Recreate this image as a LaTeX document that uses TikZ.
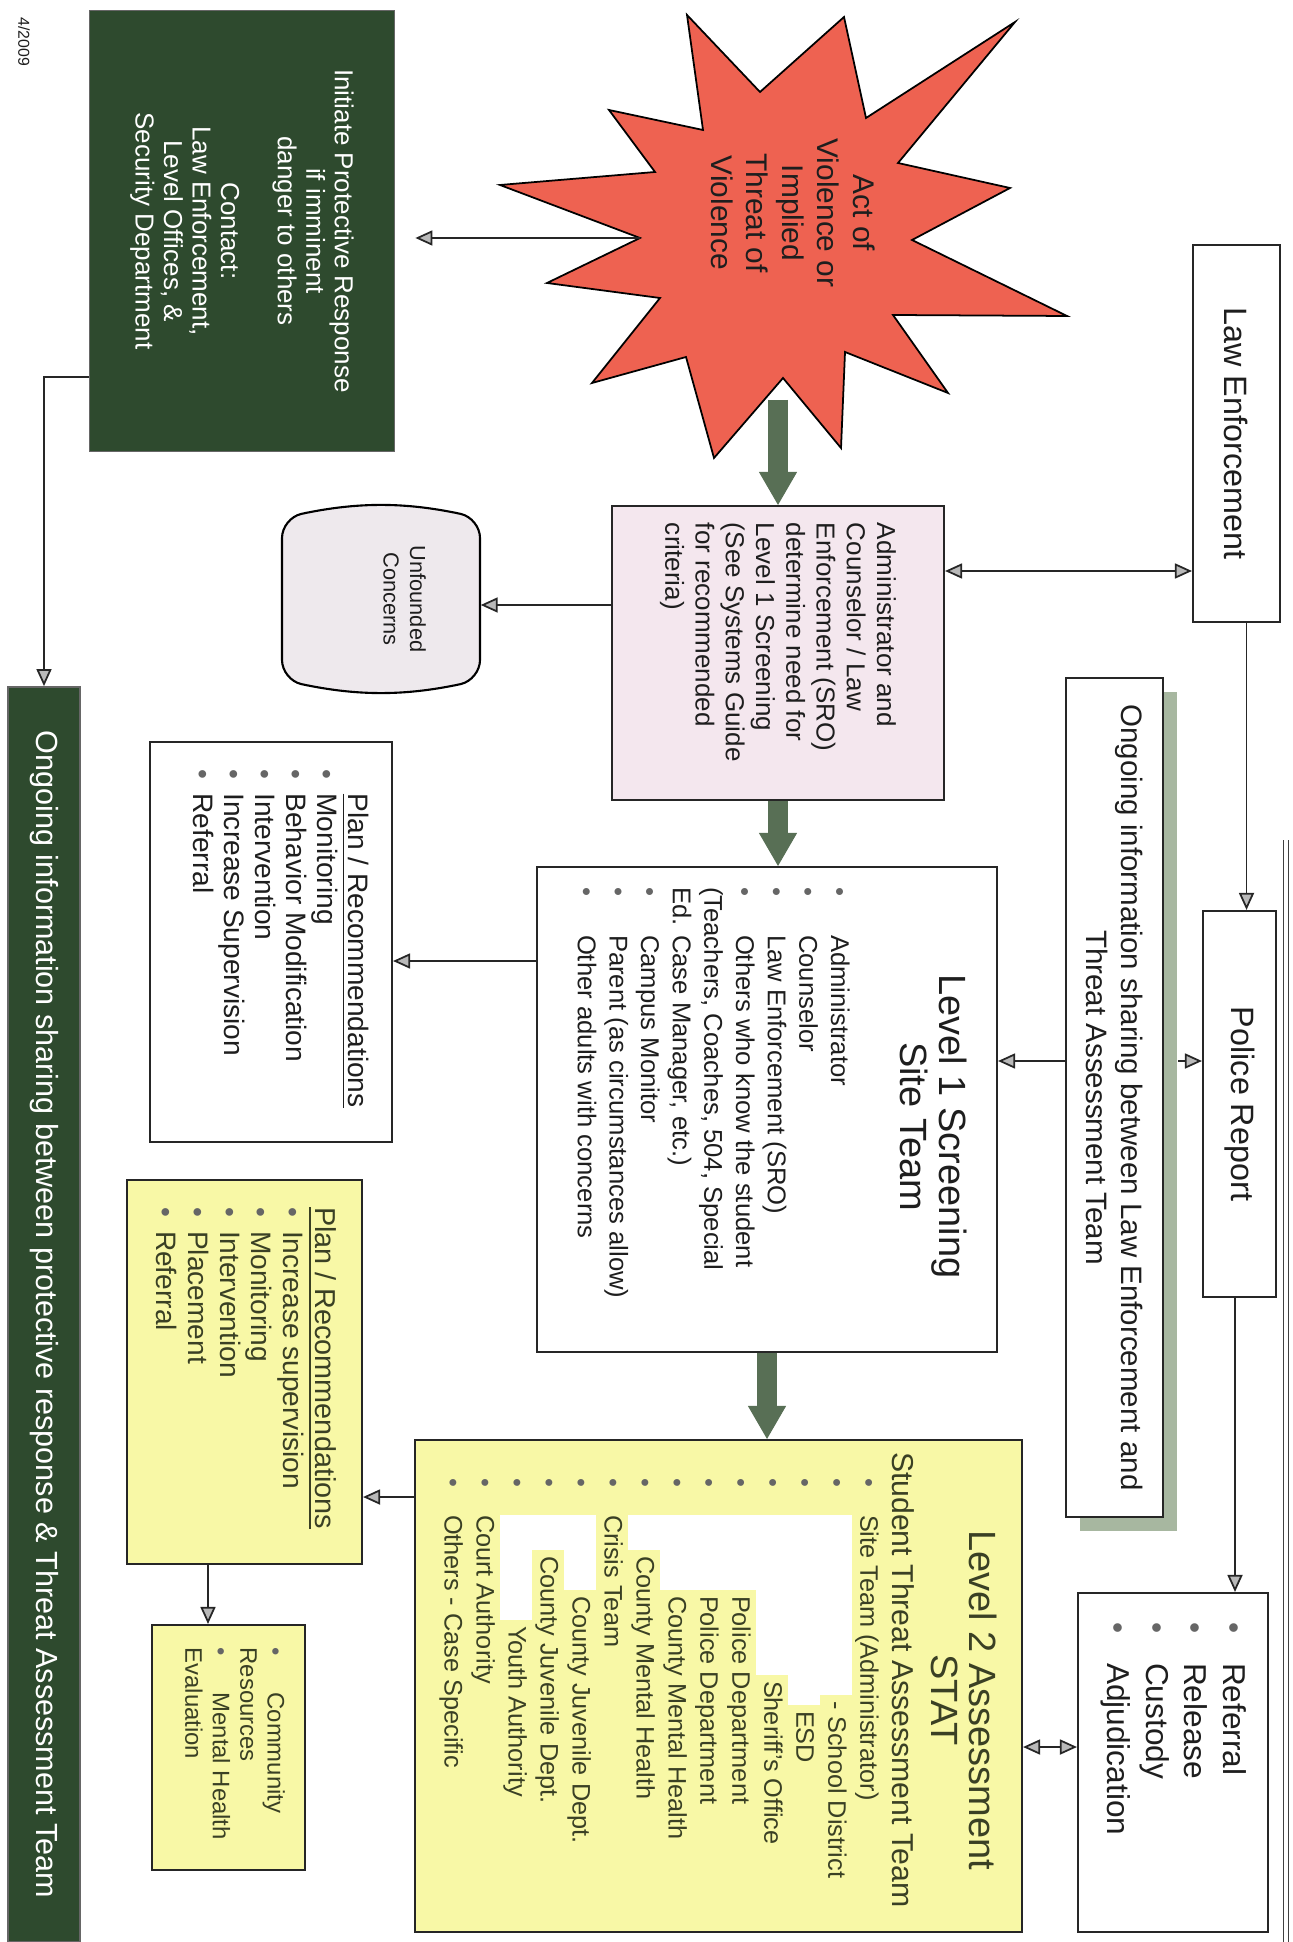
\documentclass[tikz,border=0pt]{standalone}
\usepackage{fontspec}
\setmainfont{Liberation Sans}
\usepackage{graphicx}
\usetikzlibrary{arrows.meta,positioning,shadows}

\definecolor{protectgreen}{HTML}{2E4A2E}
\definecolor{blastred}{HTML}{EE6251}
\definecolor{adminpink}{HTML}{F4E7EE}
\definecolor{unfgrey}{HTML}{EEE9ED}
\definecolor{stateyellow}{HTML}{F8F8A6}
\definecolor{yellowtext}{HTML}{3A4024}
\definecolor{fatgreen}{HTML}{586F55}
\definecolor{shadegreen}{HTML}{A7B7A0}
\definecolor{inktext}{HTML}{1E1E1E}

\newcommand{\rbox}[4][t]{\rotatebox{-90}{\parbox[c][#3][#1]{#2}{#4}}}
\newcommand{\bdot}{\textcolor{gray!80!black}{\textbullet}}
\newcommand{\itmat}[3]{\par\noindent\hangindent=#2\hangafter=1\makebox[#2][l]{\hspace{#1}\bdot}#3}
\newcommand{\itm}[2][2.4mm]{\itmat{0pt}{#1}{#2}}
\newcommand{\redact}[1]{\textcolor{white}{\rule[-2.5pt]{#1}{9.1pt}}\hspace{0.6mm}}

\begin{document}
\begin{tikzpicture}[x=0.1mm,y=-0.1mm,
    box/.style={draw=black!85,line width=0.6pt,fill=white,inner sep=0pt,text=inktext},
    pinkbox/.style={box,fill=adminpink},
    yellowbox/.style={box,fill=stateyellow,text=yellowtext},
    darkbox/.style={draw=black!60,line width=0.5pt,fill=protectgreen,inner sep=0pt,text=white},
    link/.style={draw=black!85,line width=0.5pt,-{Triangle[length=1.7mm,width=1.5mm,fill=gray!55]}},
    twoway/.style={link,{Triangle[length=1.7mm,width=1.5mm,fill=gray!55]}-{Triangle[length=1.7mm,width=1.5mm,fill=gray!55]}},
    fatlink/.style={draw=fatgreen,line width=2mm,-{Triangle[length=3.3mm,width=3.8mm,line width=0.3pt]}},
  ]
\useasboundingbox (0,0) rectangle (1293,1942);

\node[inner sep=0pt,rotate=-90,text=inktext,font=\fontsize{4.5}{5}\selectfont] (stamp) at (24,42) {4/2009};

\node[darkbox,minimum width=30.5mm,minimum height=44.1mm] (protect) at (242,231)
  {\rbox[c]{41mm}{27mm}{\centering\fontsize{7.4}{8.1}\selectfont
   Initiate Protective Response\\ if imminent\\ danger to others\\[8.1pt]
   Contact:\\ Law Enforcement,\\ Level Offices, \&\\ Security Department}};

\draw[line width=0.5pt,fill=blastred,line join=miter] (687,15) -- (760,92) -- (844,17) -- (866,118)
  -- (1015,22) -- (898,163) -- (1010,188) -- (912,240) -- (1067,316) -- (893,315)
  -- (948,393) -- (845,352) -- (841,448) -- (783,378) -- (714,458) -- (686,357)
  -- (592,383) -- (660,298) -- (547,283) -- (640,238) -- (500,185) -- (655,172)
  -- (609,110) -- (703,130) -- cycle;
\node[inner sep=0pt,text=inktext] (act) at (793,213)
  {\rbox[c]{22mm}{18mm}{\centering\fontsize{8.5}{10.1}\selectfont
   Act of\\ Violence or\\ Implied\\ Threat of\\ Violence}};
\coordinate (actW) at (640,238);
\coordinate (actS) at (778,400);

\node[box,minimum width=8.7mm,minimum height=37.7mm] (law) at (1236.5,433.5)
  {\rbox[c]{35mm}{7mm}{\centering\fontsize{9.2}{11}\selectfont Law Enforcement}};

\node[pinkbox,minimum width=33.2mm,minimum height=29.4mm] (admin) at (778,653)
  {\rbox[c]{26mm}{30mm}{\raggedright\fontsize{7.4}{8.6}\selectfont
   Administrator and\\ Counselor / Law\\ Enforcement (SRO)\\ determine need for\\
   Level 1 Screening\\ (See Systems Guide\\ for recommended\\ criteria)}};

\draw[line width=0.6pt,fill=unfgrey,rounded corners=2mm] (282,518) to[bend left=12] (480,518)
  -- (480,680) to[bend left=12] (282,680) -- cycle;
\node[inner sep=0pt,minimum width=19.8mm,minimum height=17mm,text=inktext] (unf) at (381,599)
  {\rbox[t]{14mm}{9mm}{\centering\fontsize{6.2}{7.6}\selectfont Unfounded\\ Concerns}};

\node[darkbox,minimum width=7.2mm,minimum height=125.5mm] (share) at (44,1314.5)
  {\rbox[c]{122mm}{5mm}{\centering\fontsize{8.7}{10}\selectfont
   Ongoing information sharing between protective response \& Threat Assessment Team}};

\node[box,minimum width=24.2mm,minimum height=40mm] (planA) at (271,942)
  {\rbox[t]{34.5mm}{19.6mm}{\raggedright\fontsize{8}{8.8}\selectfont
   \hspace*{2.4mm}\underline{Plan / Recommendations}
   \itm{Monitoring}\itm{Behavior Modification}\itm{Intervention}
   \itm{Increase Supervision}\itm{Referral}}};

\node[box,minimum width=46mm,minimum height=48.5mm] (lvlA) at (767,1109.5)
  {\rbox[t]{44.5mm}{40mm}{\raggedright
   {\centering\fontsize{10.8}{10}\selectfont\hspace*{3.4mm}Level 1 Screening\\
    \hspace*{3.4mm}Site Team\par}
   \vspace{10.8pt}
   \fontsize{7.3}{9}\selectfont
   \itm[4.8mm]{Administrator}\itm[4.8mm]{Counselor}\itm[4.8mm]{Law Enforcement (SRO)}
   \itm[4.8mm]{Others who know the student\\ (Teachers, Coaches, 504, Special\\ Ed. Case Manager, etc.)}
   \itm[4.8mm]{Campus Monitor}\itm[4.8mm]{Parent (as circumstances allow)}
   \itm[4.8mm]{Other adults with concerns}}};

\node[box,minimum width=9.7mm,minimum height=83.9mm,
      general shadow={fill=shadegreen,draw=none,shadow xshift=1.4mm,shadow yshift=-1.4mm}] (info) at (1114.5,1097.5)
  {\rbox[c]{82mm}{8mm}{\centering\fontsize{8.4}{10.2}\selectfont
   Ongoing information sharing between Law Enforcement and\\ Threat Assessment Team}};

\node[box,minimum width=7.3mm,minimum height=38.6mm] (police) at (1239.5,1104)
  {\rbox[c]{36mm}{6mm}{\centering\fontsize{9.2}{11}\selectfont Police Report}};

\node[box,minimum width=19mm,minimum height=33.9mm] (outcome) at (1173,1762.5)
  {\rbox[t]{28.1mm}{14.7mm}{\raggedright\fontsize{9}{11}\selectfont
   \itm[4.1mm]{Referral}\itm[4.1mm]{Release}\itm[4.1mm]{Custody}\itm[4.1mm]{Adjudication}}};

\node[yellowbox,minimum width=60.7mm,minimum height=49.2mm] (lvlB) at (718.5,1686)
  {\rbox[t]{46.8mm}{55.6mm}{\raggedright
   {\centering\fontsize{10.8}{10.6}\selectfont\hspace*{2.8mm}Level 2 Assessment\\
    \hspace*{2.8mm}STAT\par}
   \vspace{1.2pt}
   \fontsize{8.6}{10}\selectfont Student Threat Assessment Team\par
   \fontsize{7.2}{9.1}\selectfont
   \itmat{2.6mm}{6.3mm}{Site Team (Administrator)}
   \itmat{2.6mm}{6.3mm}{\redact{18mm}- School District}
   \itmat{2.6mm}{6.3mm}{\redact{19mm}ESD}
   \itmat{2.6mm}{6.3mm}{\redact{16mm}Sheriff's Office}
   \itmat{2.6mm}{6.3mm}{\redact{7.5mm}Police Department}
   \itmat{2.6mm}{6.3mm}{\redact{7.5mm}Police Department}
   \itmat{2.6mm}{6.3mm}{\redact{7.5mm}County Mental Health}
   \itmat{2.6mm}{6.3mm}{\redact{3.5mm}County Mental Health}
   \itmat{2.6mm}{6.3mm}{Crisis Team}
   \itmat{2.6mm}{6.3mm}{\redact{7.5mm}County Juvenile Dept.}
   \itmat{2.6mm}{6.3mm}{\redact{3.5mm}County Juvenile Dept.}
   \itmat{2.6mm}{6.3mm}{\redact{10.5mm}Youth Authority}
   \itmat{2.6mm}{6.3mm}{Court Authority}
   \itmat{2.6mm}{6.3mm}{Others - Case Specific}}};

\node[yellowbox,minimum width=23.5mm,minimum height=38.4mm] (planB) at (244.5,1372)
  {\rbox[t]{33mm}{18.3mm}{\raggedright\fontsize{8}{9}\selectfont
   {\fontsize{8.2}{9}\selectfont\underline{Plan / Recommendations}}
   \itm{Increase supervision}\itm{Monitoring}\itm{Intervention}\itm{Placement}\itm{Referral}}};

\node[yellowbox,minimum width=15.3mm,minimum height=24.5mm] (comm) at (228.5,1747.5)
  {\rbox[t]{20mm}{11.3mm}{\raggedright\fontsize{6.8}{7.8}\selectfont
   \itm[4.5mm]{Community\\ Resources}\itm[4.5mm]{Mental Health\\ Evaluation}}};

\coordinate (a1) at ([yshift=8.2mm]admin.east);
\coordinate (a2) at ([yshift=4.8mm]admin.west);
\coordinate (p1) at ([yshift=-14.6mm]protect.west);
\coordinate (s1) at ([yshift=14.85mm]lvlA.west);
\coordinate (i1) at ([yshift=3.65mm]info.west);
\coordinate (i2) at ([xshift=1.4mm,yshift=3.65mm]info.east);
\coordinate (b1) at ([yshift=18.9mm]lvlB.west);
\coordinate (b2) at ([yshift=-6.1mm]lvlB.east);
\coordinate (l1) at ([xshift=1mm]law.south);
\coordinate (r1) at ([xshift=-0.45mm]police.south);
\coordinate (c1) at ([xshift=-3.65mm]planB.south);

\draw[link,shorten >=2mm] (actW) -- (actW -| protect.east);
\draw[fatlink] (actS) -- (admin.north);
\draw[twoway] (a1) -- (a1 -| law.west);
\draw[link] (a2) -- (a2 -| unf.east);
\draw[fatlink] (admin.south) -- (admin.south |- lvlA.north);
\draw[link] (p1) -| (share.north);
\draw[link] (s1) -- (s1 -| planA.east);
\draw[link] (i1) -- (i1 -| lvlA.east);
\draw[link] (i2) -- (i2 -| police.west);
\draw[link] (l1) -- (l1 |- police.north);
\draw[link] (r1) -- (r1 |- outcome.north);
\draw[fatlink] (lvlA.south) -- (lvlA.south |- lvlB.north);
\draw[link] (b1) -- (b1 -| planB.east);
\draw[link] (c1) -- (c1 |- comm.north);
\draw[twoway] (b2) -- (b2 -| outcome.west);

\draw[black!75,double,double distance=0.35mm,line width=0.35pt] (1286,840) -- (1286,1942);
\end{tikzpicture}
\end{document}
